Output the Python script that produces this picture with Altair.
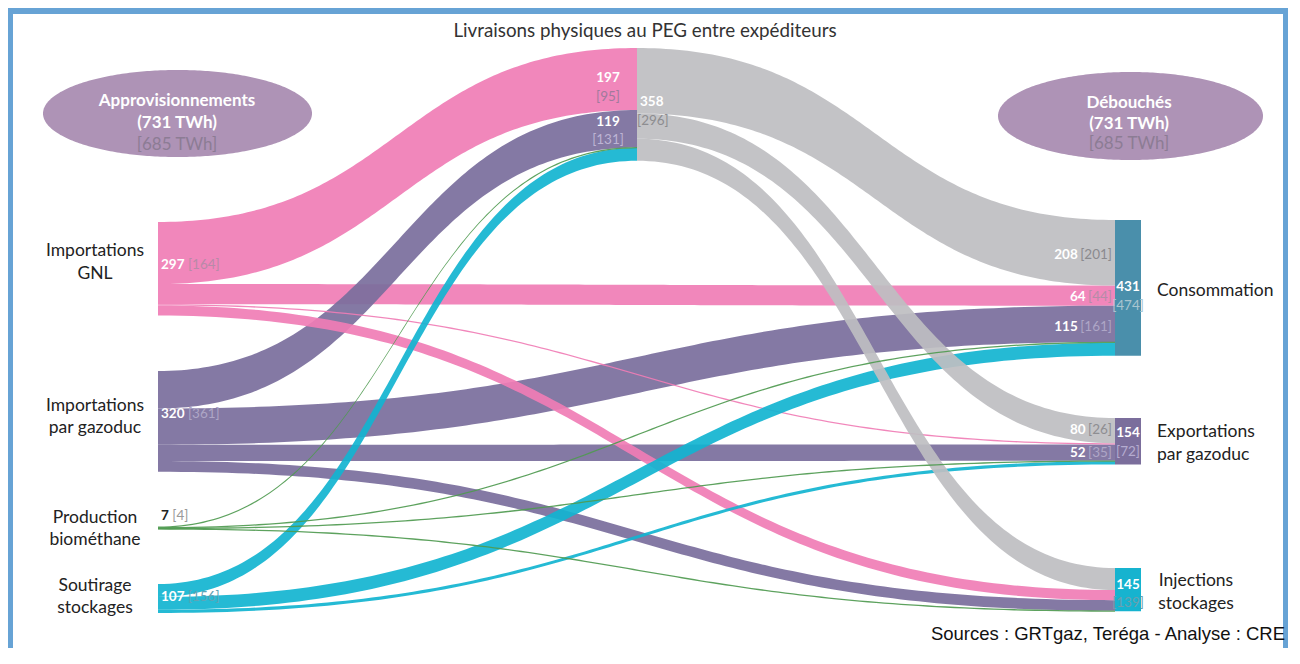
import altair as alt
import numpy as np
import pandas as pd

# ------------------------------------------------------------------ data (TWh)
sources = ["Importations GNL", "Importations par gazoduc", "Production biométhane", "Soutirage stockages"]
source_lines = [["Importations", "GNL"], ["Importations", "par gazoduc"],
                ["Production", "biométhane"], ["Soutirage", "stockages"]]
targets = ["Consommation", "Exportations par gazoduc", "Injections stockages"]

to_peg = [197, 119, 1, 41]                 # sources -> PEG
direct = [[64, 4, 32],                     # sources -> (Conso, Export, Inject)
          [115, 52, 34],
          [3, 1.5, 1.5],
          [41, 10, 0]]
from_peg = [208, 80, 70]                   # PEG -> targets

src_val = ["297", "320", "7", "107"]
src_prev = ["[164]", "[361]", "[4]", "[156]"]
peg_in_val = ["197", "119"]
peg_in_prev = ["[95]", "[131]"]
peg_val = "358"
peg_prev = "[296]"
tgt_in_val = ["208", "64", "115", "80", "52"]
tgt_in_prev = ["[201]", "[44]", "[161]", "[26]", "[35]"]
tgt_val = ["431", "154", "145"]
tgt_prev = ["[474]", "[72]", "[139]"]
total_now = "(731 TWh)"
total_prev = "[685 TWh]"

# ------------------------------------------------------------------ layout / style
W, H = 1280, 640
K = 0.315                      # px per TWh
X_SRC, X_PEG, X_TGT, X_BAR = 158, 637, 1115, 1141
SRC_TOP = [222, 371, 527, 584]
PEG_TOP = 48
TGT_TOP = [220, 418, 568]
src_colors = ["#f07db5", "#7a6e9c", "#4f9a50", "#12b4d0"]
peg_color = "#bebec1"
bar_colors = ["#4a8fab", "#7b6e9c", "#16b3cf"]
VS = 13.5                      # value label font size

xs = alt.Scale(domain=[8, 8 + W], nice=False, zero=False)
ys = alt.Scale(domain=[8, 8 + H], nice=False, zero=False, reverse=True)
X = lambda f: alt.X(f, type="quantitative", scale=xs, axis=None)
Y = lambda f: alt.Y(f, type="quantitative", scale=ys, axis=None, stack=None)

# ------------------------------------------------------------------ sankey layout
links = []
src_cur = list(SRC_TOP)
peg_in = PEG_TOP
peg_out = PEG_TOP
tgt_cur = list(TGT_TOP)
for i, v in enumerate(to_peg):
    w = v * K
    links.append(dict(name=f"s{i}_peg", color=src_colors[i], x0=X_SRC, x1=X_PEG,
                      a=src_cur[i], b=peg_in, w=w))
    src_cur[i] += w
    peg_in += w
for j, v in enumerate(from_peg):
    w = v * K
    links.append(dict(name=f"peg_t{j}", color=peg_color, x0=X_PEG, x1=X_TGT,
                      a=peg_out, b=tgt_cur[j], w=w))
    peg_out += w
    tgt_cur[j] += w
for i, row in enumerate(direct):
    for j, v in enumerate(row):
        if v <= 0:
            continue
        w = v * K
        links.append(dict(name=f"s{i}_t{j}", color=src_colors[i], x0=X_SRC, x1=X_TGT,
                          a=src_cur[i], b=tgt_cur[j], w=w))
        src_cur[i] += w
        tgt_cur[j] += w

t = np.linspace(0, 1, 120)
fx = 1.5 * t * (1 - t) + t ** 3
fy = 3 * t ** 2 - 2 * t ** 3
rows = []
for L in links:
    xx = L["x0"] + (L["x1"] - L["x0"]) * fx
    top = L["a"] + (L["b"] - L["a"]) * fy
    c = top + L["w"] / 2
    hw = max(L["w"], 1.3) / 2
    for xv, cv in zip(xx, c):
        rows.append(dict(link=L["name"], x=xv, y=cv - hw, y2=cv + hw))
ribbons = pd.DataFrame(rows)
color_of = {L["name"]: L["color"] for L in links}

draw_order = ["s0_peg", "s0_t0", "s1_peg", "s1_t0", "s1_t1", "s1_t2",
              "s0_t1", "s0_t2", "s3_peg", "s3_t0", "s3_t1",
              "peg_t0", "peg_t1", "peg_t2",
              "s2_peg", "s2_t0", "s2_t1", "s2_t2"]

layers = []

# frame
frame = pd.DataFrame([
    dict(x=8, x2=13, y=8, y2=8 + H),
    dict(x=8 + W - 5, x2=8 + W, y=8, y2=8 + H),
    dict(x=8, x2=8 + W, y=8, y2=14),
])
layers.append(alt.Chart(frame).mark_rect(color="#67a3d5").encode(
    x=X("x"), x2="x2", y=Y("y"), y2="y2"))

# ellipses
th = np.linspace(0, np.pi, 160)
ell_rows = []
for name, cx, cy, rx, ry in [("L", 177.5, 113.5, 134.5, 43.5), ("R", 1130.5, 116, 132.5, 44)]:
    for a in th:
        ell_rows.append(dict(e=name, x=cx - rx * np.cos(a), y=cy - ry * np.sin(a), y2=cy + ry * np.sin(a)))
ell = pd.DataFrame(ell_rows)
for name in ["L", "R"]:
    layers.append(alt.Chart(ell).transform_filter(alt.datum.e == name)
                  .mark_area(color="#ae93b6").encode(x=X("x"), y=Y("y"), y2="y2"))

# ribbons
for name in draw_order:
    if name not in color_of:
        continue
    layers.append(alt.Chart(ribbons).transform_filter(alt.datum.link == name)
                  .mark_area(color=color_of[name], opacity=0.92)
                  .encode(x=X("x"), y=Y("y"), y2="y2"))

# target bars
bars = pd.DataFrame([dict(x=X_TGT, x2=X_BAR, y=TGT_TOP[j], y2=tgt_cur[j], c=bar_colors[j])
                     for j in range(3)])
layers.append(alt.Chart(bars).mark_rect().encode(
    x=X("x"), x2="x2", y=Y("y"), y2="y2", color=alt.Color("c:N", scale=None)))


def txt(items, size, weight="normal", align="center", font="Lato"):
    df = pd.DataFrame(items, columns=["text", "x", "y", "color"])
    return alt.Chart(df).mark_text(align=align, baseline="middle", fontSize=size,
                                   fontWeight=weight, font=font).encode(
        x=X("x"), y=Y("y"), text="text:N", color=alt.Color("color:N", scale=None))


def wnum(s):
    return sum(0.27 * VS if ch in "[]" else 0.58 * VS for ch in s)


# title & ellipse texts
layers.append(txt([("Livraisons physiques au PEG entre expéditeurs", 645, 31, "#333333")], 18.8))
layers.append(txt([("Approvisionnements", 177, 101, "white"), (total_now, 177, 123, "white"),
                   ("Débouchés", 1129, 103, "white"), (total_now, 1129, 124, "white")], 17, "bold"))
layers.append(txt([(total_prev, 177, 145, "#8c7c94"), (total_prev, 1129, 144, "#8c7c94")], 17))

# node names
left_y = [(251, 274), (406, 428), (518, 540), (586, 608)]
name_items = []
for lines, ys_ in zip(source_lines, left_y):
    for s, yy in zip(lines, ys_):
        name_items.append((s, 95, yy, "#222222"))
name_items += [("Injections", 1196, 581, "#222222"), ("stockages", 1196, 604, "#222222")]
layers.append(txt(name_items, 17.5))
layers.append(txt([("Consommation", 1157, 291, "#222222"), ("Exportations", 1157, 432, "#222222"),
                   ("par gazoduc", 1157, 455, "#222222")], 17.5, align="left"))

# left value labels
lv_y = [265, 414, 516, 597]
lv_num_col = ["white", "white", "#222222", "white"]
lv_br_col = ["#b88aa8", "#aea6c6", "#9a9a9a", "#5fa4b6"]
layers.append(txt([(src_val[i], 161, lv_y[i], lv_num_col[i]) for i in range(4)], VS, "bold", "left"))
layers.append(txt([(src_prev[i], 161 + wnum(src_val[i]) + 3.5, lv_y[i], lv_br_col[i]) for i in range(4)],
                  VS, "normal", "left"))

# PEG labels
layers.append(txt([(peg_in_val[0], 608, 78, "white"), (peg_in_val[1], 608, 122, "white")], VS, "bold"))
layers.append(txt([(peg_in_prev[0], 608, 97, "#a07a9c"), (peg_in_prev[1], 608, 140, "#bdb4d4")], VS))
layers.append(txt([(peg_val, 640, 102, "white")], VS, "bold", "left"))
layers.append(txt([(peg_prev, 637, 121, "#8d8d90")], VS, "normal", "left"))

# right ribbon labels
rv_y = [255, 297, 327, 430, 453]
rv_br_col = ["#8a8a8e", "#b58ca8", "#aea6c6", "#8e8e92", "#aea6c6"]
layers.append(txt([(tgt_in_prev[k], 1112, rv_y[k], rv_br_col[k]) for k in range(5)], VS, "normal", "right"))
layers.append(txt([(tgt_in_val[k], 1112 - wnum(tgt_in_prev[k]) - 3.5, rv_y[k], "white") for k in range(5)],
                  VS, "bold", "right"))

# bar labels
bx = (X_TGT + X_BAR) / 2
layers.append(txt([(tgt_val[0], bx, 287, "white"), (tgt_val[1], bx, 433, "white"),
                   (tgt_val[2], bx, 585, "white")], VS, "bold"))
layers.append(txt([(tgt_prev[0], bx, 306, "#a9c5d0"), (tgt_prev[1], bx, 452, "#b5acd0"),
                   (tgt_prev[2], bx, 603, "#6aa0b0")], VS))

# source line
layers.append(txt([("Sources : GRTgaz, Teréga - Analyse : CRE", 1285, 634, "#111111")], 18.5,
                  align="right", font="Liberation Sans"))

chart = alt.layer(*layers).properties(
    width=W, height=H, autosize=alt.AutoSizeParams(type="none"), padding=0,
    background="white"
).configure_view(strokeWidth=0)

chart.save("out.html", embed_options={"renderer": "svg", "actions": False})
